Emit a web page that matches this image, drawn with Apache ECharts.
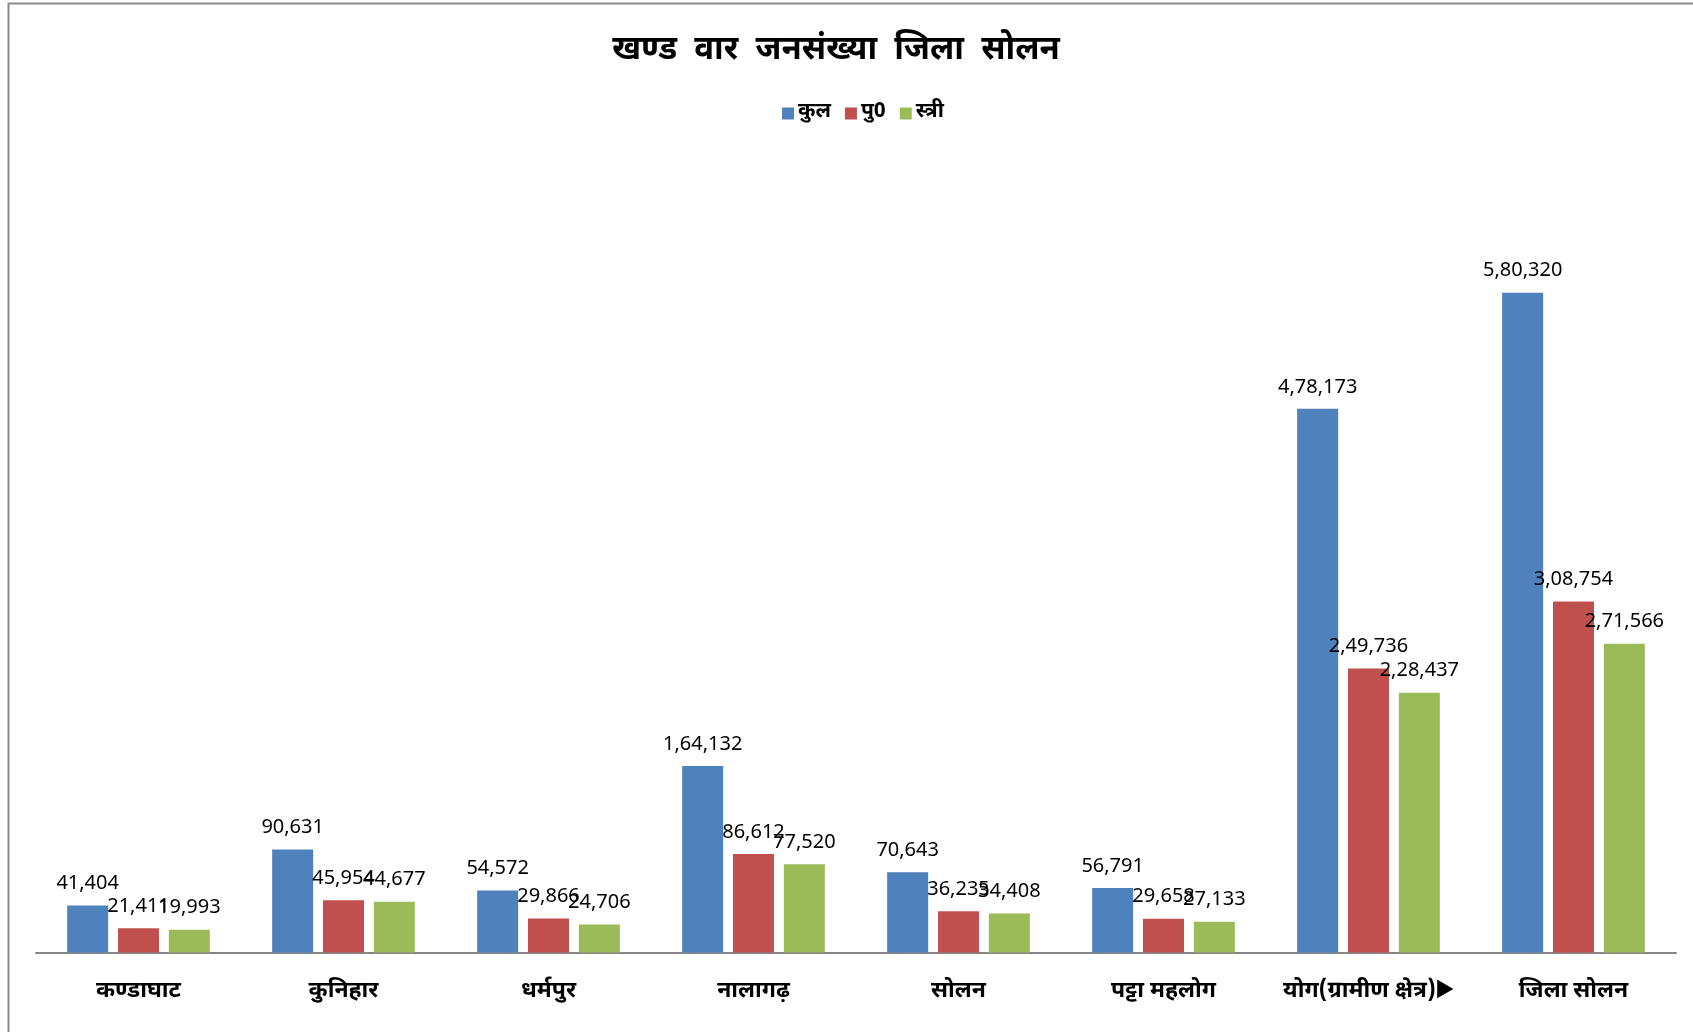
<!DOCTYPE html>
<html>
<head>
<meta charset="utf-8">
<script src="https://cdn.jsdelivr.net/npm/echarts@6/dist/echarts.min.js"></script>
<style>
html,body{margin:0;padding:0;background:#fff;}
#chart{width:1693px;height:1032px;}
</style>
</head>
<body>
<div id="chart"></div>
<script>
const categories = ['कण्डाघाट', 'कुनिहार', 'धर्मपुर', 'नालागढ़', 'सोलन', 'पट्टा महलोग', 'योग(ग्रामीण क्षेत्र)▶', 'जिला सोलन'];
const seriesNames = ['कुल', 'पु0', 'स्त्री'];
const totalValues = [41404, 90631, 54572, 164132, 70643, 56791, 478173, 580320];
const maleValues = [21411, 45954, 29866, 86612, 36235, 29658, 249736, 308754];
const femaleValues = [19993, 44677, 24706, 77520, 34408, 27133, 228437, 271566];
const colors = ['#4F81BD', '#C0504D', '#9BBB59'];

function indianFormat(n) {
  const s = String(n);
  if (s.length <= 3) return s;
  const last3 = s.slice(-3);
  let rest = s.slice(0, -3);
  const parts = [];
  while (rest.length > 2) { parts.unshift(rest.slice(-2)); rest = rest.slice(0, -2); }
  if (rest.length) parts.unshift(rest);
  return parts.join(',') + ',' + last3;
}

const hiFont = '"Noto Sans Devanagari", "Lohit Devanagari", "FreeSans", "Noto Sans", sans-serif';
const numFont = '"Noto Sans", sans-serif';

const chart = echarts.init(document.getElementById('chart'), null, {renderer: 'canvas'});
const dataSets = [totalValues, maleValues, femaleValues];
chart.setOption({
  backgroundColor: '#fff',
  animation: false,
  title: {
    text: 'खण्ड  वार  जनसंख्या  जिला  सोलन',
    left: 831, top: 48, textAlign: 'center', textVerticalAlign: 'middle',
    textStyle: {fontFamily: hiFont, fontSize: 33, fontWeight: 'bold', color: '#000'}
  },
  legend: {
    data: seriesNames,
    left: 777, top: 98,
    itemWidth: 12, itemHeight: 12, itemGap: 14,
    icon: 'rect',
    textStyle: {fontFamily: hiFont, fontSize: 21, fontWeight: 'bold', color: '#000', padding: [0,0,0,-1]}
  },
  graphic: [{
    type: 'rect', silent: true, z: -1,
    shape: {x: 8.5, y: 3.5, width: 1720, height: 1060},
    style: {fill: 'none', stroke: '#8a8a8a', lineWidth: 2}
  }],
  grid: {left: 36, right: 17, top: 156.6, bottom: 79.5, containLabel: false},
  xAxis: {
    type: 'category', data: categories,
    axisLine: {lineStyle: {color: '#868686', width: 2}},
    axisTick: {show: false},
    axisLabel: {fontFamily: hiFont, fontSize: 23, fontWeight: 'bold', color: '#000', margin: 29, interval: 0}
  },
  yAxis: {
    type: 'value', min: 0, max: 700000, interval: 100000,
    show: false, splitLine: {show: false}
  },
  series: seriesNames.map((name, i) => ({
    name, type: 'bar', data: dataSets[i],
    barWidth: 41, barGap: '24%', barCategoryGap: '30%',
    itemStyle: {color: colors[i]},
    label: {
      show: true, position: 'top', distance: 12,
      fontFamily: numFont, fontSize: 20, color: '#000',
      formatter: p => indianFormat(p.value)
    }
  }))
});
</script>
</body>
</html>
